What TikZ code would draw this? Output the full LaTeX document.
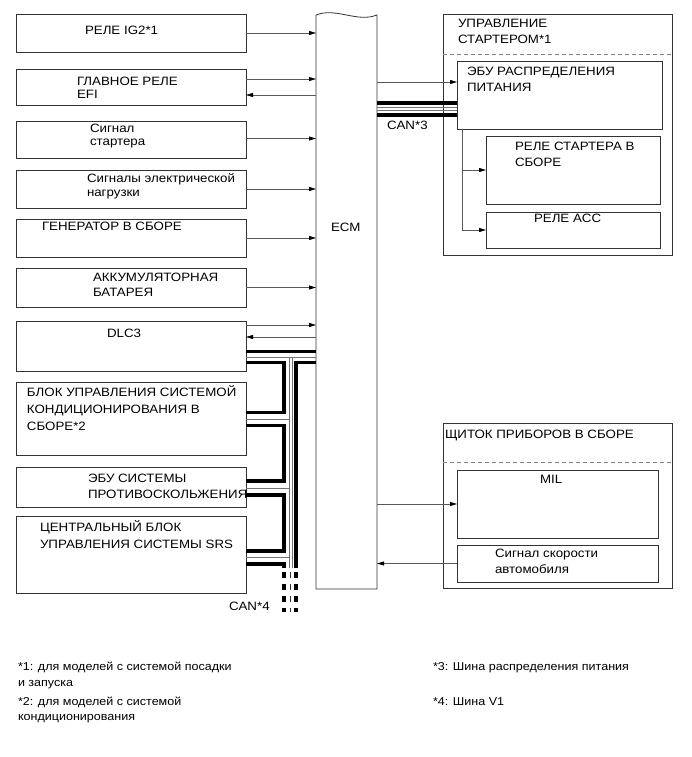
\documentclass[tikz,border=0pt]{standalone}
\usepackage{fontspec}
\setmainfont{Liberation Sans}[FakeStretch=1.1]
\usetikzlibrary{arrows.meta}
\begin{document}
\begin{tikzpicture}[x=1pt,y=-1pt,
  box/.style={draw=black!80,line width=0.8pt,inner sep=0pt,outer sep=0pt,anchor=north west},
  txt/.style={anchor=base west,inner sep=0pt,outer sep=0pt,font=\fontsize{12.1}{14}\selectfont},
  note/.style={anchor=base west,inner sep=0pt,outer sep=0pt,font=\fontsize{11.4}{14}\selectfont},
  arr/.style={draw=black!65,line width=0.8pt,-{Triangle[length=7pt,width=4pt,color=black]}},
  thk/.style={line width=3.6pt,black,line join=miter},
  thn/.style={line width=0.7pt,black!55},
  dsh/.style={draw=black!50,line width=0.7pt,dash pattern=on 4pt off 3pt}]
\fill[white] (0,0) rectangle (691,757);
\useasboundingbox (0,0) rectangle (691,757);

% ---------- left boxes ----------
\node[box,minimum width=230pt,minimum height=38pt] (b1) at (16,14) {};
\node[box,minimum width=230pt,minimum height=36pt] (b2) at (16,69) {};
\node[box,minimum width=230pt,minimum height=37pt] (b3) at (16,121) {};
\node[box,minimum width=230pt,minimum height=38pt] (b4) at (16,170) {};
\node[box,minimum width=230pt,minimum height=38pt] (b5) at (16,219) {};
\node[box,minimum width=230pt,minimum height=39pt] (b6) at (16,268) {};
\node[box,minimum width=230pt,minimum height=50pt] (b7) at (16,321) {};
\node[box,minimum width=230pt,minimum height=73pt] (b8) at (16,382) {};
\node[box,minimum width=230pt,minimum height=40pt] (b9) at (16,467) {};
\node[box,minimum width=230pt,minimum height=77pt] (b10) at (16,516) {};

\node[txt] (t1) at (85,34.5) {РЕЛЕ IG2*1};
\node[txt] (t2a) at (77,85.5) {ГЛАВНОЕ РЕЛЕ};
\node[txt] (t2b) at (77,99) {EFI};
\node[txt] (t3a) at (90,132) {Сигнал};
\node[txt] (t3b) at (90,146) {стартера};
\node[txt] (t4a) at (87,182) {Сигналы электрической};
\node[txt] (t4b) at (87,196) {нагрузки};
\node[txt] (t5) at (42,230) {ГЕНЕРАТОР В СБОРЕ};
\node[txt] (t6a) at (93,281) {АККУМУЛЯТОРНАЯ};
\node[txt] (t6b) at (93,296) {БАТАРЕЯ};
\node[txt] (t7) at (107,337) {DLC3};
\node[txt] (t8a) at (27,396) {БЛОК УПРАВЛЕНИЯ СИСТЕМОЙ};
\node[txt] (t8b) at (27,413) {КОНДИЦИОНИРОВАНИЯ В};
\node[txt] (t8c) at (27,430) {СБОРЕ*2};
\node[txt] (t9a) at (88,482) {ЭБУ СИСТЕМЫ};
\node[txt] (t9b) at (88,498) {ПРОТИВОСКОЛЬЖЕНИЯ};
\node[txt] (t10a) at (40,531) {ЦЕНТРАЛЬНЫЙ БЛОК};
\node[txt] (t10b) at (40,548) {УПРАВЛЕНИЯ СИСТЕМЫ SRS};

% ---------- ECM ----------
\node[inner sep=0pt,outer sep=0pt,anchor=north west,minimum width=61pt,minimum height=574pt] (ecm) at (316,15) {};
\draw[black!80,line width=0.8pt] (ecm.north west) .. controls (336,7) and (357,23) .. (ecm.north east)
  -- (ecm.south east) -- (ecm.south west) -- cycle;
\node[txt] (tecm) at (331,231) {ECM};

% ---------- right top ----------
\node[box,minimum width=229pt,minimum height=241pt] (o1) at (443,14) {};
\draw[dsh] (o1.west |- 0,54) -- (o1.east |- 0,54);
\node[txt] (to1a) at (458,28) {УПРАВЛЕНИЕ};
\node[txt] (to1b) at (458,44) {СТАРТЕРОМ*1};
\node[box,minimum width=205pt,minimum height=68pt] (e1) at (457,61) {};
\node[txt] (te1a) at (467,76) {ЭБУ РАСПРЕДЕЛЕНИЯ};
\node[txt] (te1b) at (467,92) {ПИТАНИЯ};
\node[box,minimum width=174pt,minimum height=68pt] (rs) at (486,136) {};
\node[txt] (trsa) at (515,150) {РЕЛЕ СТАРТЕРА В};
\node[txt] (trsb) at (515,166) {СБОРЕ};
\node[box,minimum width=174pt,minimum height=36pt] (ra) at (486,212) {};
\node[txt] (tra) at (534,222) {РЕЛЕ ACC};

% ---------- right bottom ----------
\node[box,minimum width=229pt,minimum height=165pt] (o2) at (443,423) {};
\draw[dsh] (o2.west |- 0,462) -- (o2.east |- 0,462);
\node[txt] (to2) at (445,438) {ЩИТОК ПРИБОРОВ В СБОРЕ};
\node[box,minimum width=201pt,minimum height=68pt] (mil) at (457,470) {};
\node[txt] (tmil) at (540,483) {MIL};
\node[box,minimum width=201pt,minimum height=37pt] (spd) at (457,545) {};
\node[txt] (tspa) at (495,557) {Сигнал скорости};
\node[txt] (tspb) at (495,573) {автомобиля};

% ---------- arrows ----------
\draw[arr] (b1.east) -- (b1.east -| ecm.west);
\draw[arr] (b2.east |- 0,79) -- (ecm.west |- 0,79);
\draw[arr] (ecm.west |- 0,95) -- (b2.east |- 0,95);
\draw[arr] (b3.east |- 0,138.5) -- (ecm.west |- 0,138.5);
\draw[arr] (b4.east) -- (b4.east -| ecm.west);
\draw[arr] (b5.east) -- (b5.east -| ecm.west);
\draw[arr] (b6.east) -- (b6.east -| ecm.west);
\draw[arr] (b7.east |- 0,325) -- (ecm.west |- 0,325);
\draw[arr] (ecm.west |- 0,337) -- (b7.east |- 0,337);
\draw[arr] (ecm.east |- 0,82) -- (e1.west |- 0,82);
\draw[arr] ([xshift=5pt]e1.south west) |- (rs.west);
\draw[arr] ([xshift=5pt]e1.south west) |- (ra.west);
\draw[arr] (ecm.east |- mil.west) -- (mil.west);
\draw[arr] (spd.west) -- (spd.west -| ecm.east);

% ---------- CAN*3 ----------
\draw[thk] (ecm.east |- 0,103.3) -- (e1.west |- 0,103.3);
\draw[thn] (ecm.east |- 0,107.5) -- (e1.west |- 0,107.5);
\draw[thn] (ecm.east |- 0,110.3) -- (e1.west |- 0,110.3);
\draw[thk] (ecm.east |- 0,115) -- (e1.west |- 0,115);
\node[txt] (tcan3) at (387,129) {CAN*3};

% ---------- CAN*4 bus ----------
\draw[thk] (b7.east |- 0,351.5) -- (ecm.west |- 0,351.5);
\draw[thn] (b7.east |- 0,357) -- (ecm.west |- 0,357);
\draw[thk] (ecm.west |- 0,362.5) -- (296,362.5) -- (296,568);
\draw[thn] (289,357) -- (289,568);
\draw[thn] (292.5,357) -- (292.5,568);
\draw[thk] (b7.east |- 0,362.5) -- (284,362.5) -- (284,412.5) -- (b8.east |- 0,412.5);
\draw[thn] (b8.east |- 0,419) -- (289,419);
\draw[thk] (b8.east |- 0,425.5) -- (284,425.5) -- (284,481) -- (b9.east |- 0,481);
\draw[thn] (b9.east |- 0,488) -- (289,488);
\draw[thk] (b9.east |- 0,495) -- (284,495) -- (284,551) -- (b10.east |- 0,551);
\draw[thn] (b10.east |- 0,557.5) -- (289,557.5);
\draw[thk] (b10.east |- 0,564) -- (284,564) -- (284,568);
\draw[thk,dash pattern=on 6pt off 6pt] (284,572) -- (284,612);
\draw[thk,dash pattern=on 6pt off 6pt] (296,572) -- (296,612);
\draw[line width=1.6pt,black!80,dash pattern=on 6pt off 6pt] (290.5,572) -- (290.5,612);
\node[txt] (tcan4) at (229,610) {CAN*4};

% ---------- notes ----------
\node[note] (n1a) at (18,670) {*1: для моделей с системой посадки};
\node[note] (n1b) at (18,686) {и запуска};
\node[note] (n2a) at (18,705) {*2: для моделей с системой};
\node[note] (n2b) at (18,720) {кондиционирования};
\node[note] (n3) at (433,670) {*3: Шина распределения питания};
\node[note] (n4) at (433,705) {*4: Шина V1};
\end{tikzpicture}
\end{document}
